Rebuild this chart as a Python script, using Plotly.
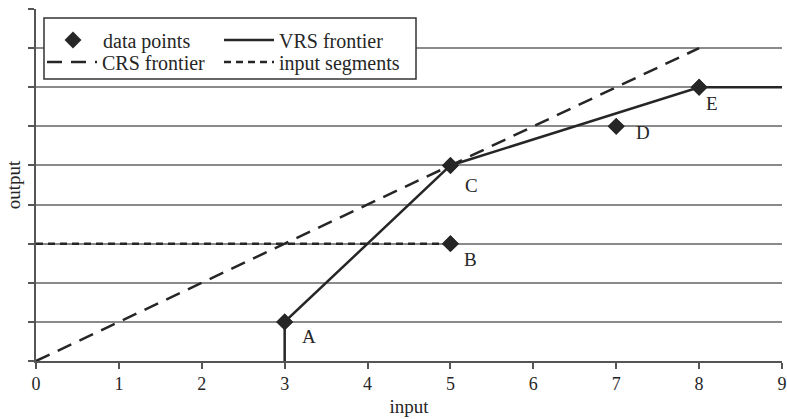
import plotly.graph_objects as go

# Data
point_labels = ["A", "B", "C", "D", "E"]
point_x = [3, 5, 5, 7, 8]
point_y = [1, 3, 5, 6, 7]

vrs_x = [3, 3, 5, 8, 9]
vrs_y = [0, 1, 5, 7, 7]

crs_x = [0, 8]
crs_y = [0, 8]

seg_x = [0, 5]
seg_y = [3, 3]

x_ticks = [0, 1, 2, 3, 4, 5, 6, 7, 8, 9]

FONT = "Liberation Serif, Times New Roman, serif"
INK = "#262626"

# plot area in pixels
L, R, T, B = 36, 782, 9, 361
W, H = R - L, B - T


def px_x(p):
    return (p - L) / W


def px_y(p):
    return (B - p) / H


fig = go.Figure()

fig.add_trace(go.Scatter(
    x=point_x, y=point_y, mode="markers", name="data points",
    marker=dict(symbol="diamond", size=13, color=INK),
    legend="legend", cliponaxis=False,
))
fig.add_trace(go.Scatter(
    x=crs_x, y=crs_y, mode="lines", name="CRS frontier",
    line=dict(color=INK, width=2.5, dash="15px,9px"),
    legend="legend2",
))
fig.add_trace(go.Scatter(
    x=vrs_x, y=vrs_y, mode="lines", name="VRS frontier",
    line=dict(color=INK, width=2.5),
    legend="legend3",
))
fig.add_trace(go.Scatter(
    x=seg_x, y=seg_y, mode="lines", name="input segments",
    line=dict(color=INK, width=2.5, dash="7px,5px"),
    legend="legend4",
))
# redraw points on top of lines
fig.add_trace(go.Scatter(
    x=point_x, y=point_y, mode="markers", showlegend=False,
    marker=dict(symbol="diamond", size=13, color=INK), cliponaxis=False,
    hoverinfo="skip",
))

label_offsets = {"A": (24, -15), "B": (20, -16), "C": (21, -20),
                 "D": (27, -6), "E": (13, -16)}
for lab, xv, yv in zip(point_labels, point_x, point_y):
    dx, dy = label_offsets[lab]
    fig.add_annotation(x=xv, y=yv, text=lab, showarrow=False,
                       xshift=dx, yshift=dy,
                       font=dict(family=FONT, size=19, color=INK))

# legend box
fig.add_shape(type="rect", xref="paper", yref="paper",
              x0=px_x(44), x1=px_x(416), y0=px_y(79), y1=px_y(18),
              line=dict(color="#333333", width=1.5), fillcolor="white",
              layer="above")

legend_common = dict(
    bgcolor="rgba(0,0,0,0)", borderwidth=0,
    font=dict(family=FONT, size=20, color=INK),
    xanchor="left", yanchor="middle", itemwidth=50,
)

fig.update_layout(
    width=787, height=419,
    margin=dict(l=L, r=787 - R, t=T, b=419 - B, autoexpand=False),
    paper_bgcolor="white", plot_bgcolor="white",
    font=dict(family=FONT, size=18, color=INK),
    legend=dict(x=px_x(43), y=px_y(40), **legend_common),
    legend2=dict(x=px_x(42), y=px_y(62), **legend_common),
    legend3=dict(x=px_x(219), y=px_y(40), **legend_common),
    legend4=dict(x=px_x(219), y=px_y(62), **legend_common),
    xaxis=dict(
        range=[0, 9], tickvals=x_ticks, ticktext=[str(v) for v in x_ticks],
        showgrid=False, zeroline=False, showline=True, automargin=False,
        linecolor="#555555", linewidth=1.5,
        ticks="outside", ticklen=6, tickcolor="#555555", tickwidth=1.5,
        tickfont=dict(family=FONT, size=18, color=INK),
        title=dict(text="input", font=dict(family=FONT, size=19, color=INK), standoff=6),
    ),
    yaxis=dict(
        range=[0, 9], dtick=1, showticklabels=False, automargin=False,
        showgrid=True, gridcolor="#8a8a8a", gridwidth=1.5,
        zeroline=False, showline=True,
        linecolor="#555555", linewidth=1.5,
        ticks="outside", ticklen=6, tickcolor="#555555", tickwidth=1.5,
        title=dict(text="output", font=dict(family=FONT, size=19, color=INK), standoff=3),
    ),
)

fig.write_html("out.html", config={"displayModeBar": False},
               post_script="document.body.style.margin='0';document.body.style.overflow='hidden';")
